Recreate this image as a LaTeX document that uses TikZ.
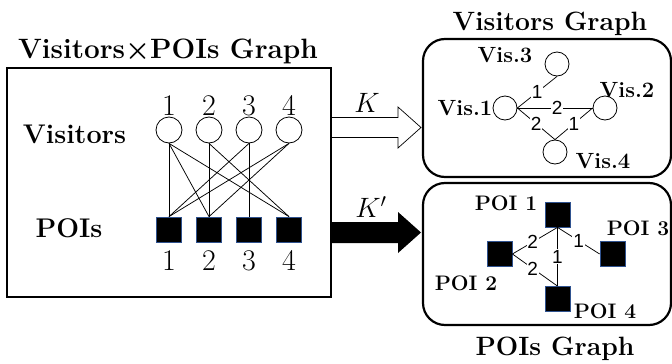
\RequirePackage{fix-cm}
\documentclass[tikz,border=0pt]{standalone}
\usepackage{fontspec}
\newfontfamily\lblfont{Liberation Sans}
\usetikzlibrary{calc}
\definecolor{poiblue}{RGB}{47,82,143}
\tikzset{
  visnode/.style={circle, draw=black, line width=0.8pt, minimum size=26pt, inner sep=0pt},
  smallvis/.style={circle, draw=black, line width=0.8pt, minimum size=24pt, inner sep=0pt},
  poinode/.style={rectangle, fill=black, draw=poiblue, line width=0.8pt, minimum size=25pt, inner sep=0pt},
  bigtitle/.style={anchor=base, inner sep=0pt, font=\fontsize{28}{30}\selectfont\bfseries},
  sidelabel/.style={anchor=base, inner sep=0pt, font=\fontsize{27}{30}\selectfont\bfseries},
  digit/.style={anchor=base, inner sep=0pt, font=\fontsize{30}{32}\selectfont},
  vislabel/.style={anchor=base, inner sep=0pt, font=\fontsize{22}{24}\selectfont\bfseries},
  poilabel/.style={anchor=base, inner sep=0pt, font=\fontsize{21}{24}\selectfont\bfseries},
  weight/.style={fill=white, inner sep=0.8pt, font=\lblfont\fontsize{19}{19}\selectfont},
  thinedge/.style={line width=0.75pt},
  frame/.style={draw=black, line width=2.2pt},
}
\begin{document}
\begin{tikzpicture}[x=1pt, y=-1pt]
\useasboundingbox (0,0) rectangle (672,364);

% ---- transfer arrows ----
\coordinate (kA) at (331,127.5);
\coordinate (kB) at (421,127.5);
\coordinate (kpA) at (331,232.5);
\coordinate (kpB) at (421,232.5);
\filldraw[fill=white, draw=black, line width=0.7pt]
  ($(kA)+(0,-10)$) -- ($(kB)+(-23,-10)$) -- ($(kB)+(-23,-20.5)$) -- (kB)
  -- ($(kB)+(-23,20.5)$) -- ($(kB)+(-23,10)$) -- ($(kA)+(0,10)$);
\fill[black]
  ($(kpA)+(0,-10.5)$) -- ($(kpB)+(-23,-10.5)$) -- ($(kpB)+(-23,-20.5)$) -- (kpB)
  -- ($(kpB)+(-23,20.5)$) -- ($(kpB)+(-23,10.5)$) -- ($(kpA)+(0,10.5)$) -- cycle;
\node[inner sep=0pt, font=\fontsize{28}{30}\selectfont] (klab) at (367,103) {$K$};
\node[inner sep=0pt, font=\fontsize{28}{30}\selectfont] (kplab) at (371,207) {$K'$};

% ---- bipartite graph ----
\draw[frame, fill=white] (7,68) rectangle (331,297);
\node[bigtitle] (bititle) at (168,58) {Visitors{\boldmath$\times$}POIs Graph};
\node[sidelabel] (vislab) at (74.5,143) {Visitors};
\node[sidelabel] (poislab) at (69,237) {POIs};

\foreach \i/\x in {1/169,2/209,3/249,4/289} {
  \node[visnode] (v\i) at (\x,130) {};
  \node[poinode] (p\i) at (\x,229.5) {};
  \node[digit] (vd\i) at (\x,115) {\i};
  \node[digit] (pd\i) at (\x,270) {\i};
}
\foreach \a/\b in {1/1,1/2,1/4,2/2,2/4,3/3,3/1,4/1,4/2}
  \draw[thinedge] (v\a.south) -- (p\b.north);

% ---- visitors graph ----
\draw[frame, rounded corners=22pt] (423,39) rectangle (671,177);
\node[bigtitle, font=\fontsize{26.5}{30}\selectfont\bfseries] (vgtitle) at (550,30) {Visitors Graph};
\node[smallvis] (g1) at (505,108) {};
\node[smallvis] (g2) at (605,108) {};
\node[smallvis] (g3) at (557,64) {};
\node[smallvis] (g4) at (555,152) {};
\node[vislabel] (g1l) at (465,115) {Vis.1};
\node[vislabel] (g2l) at (627,97) {Vis.2};
\node[vislabel] (g3l) at (505,62) {Vis.3};
\node[vislabel] (g4l) at (603,168) {Vis.4};
\draw[thinedge] (g1.east) -- node[weight, pos=0.5] {1} (g3.south);
\draw[thinedge] (g1.east) -- node[weight, pos=0.53] {2} (g2.west);
\draw[thinedge] (g1.east) -- node[weight, pos=0.5] {2} (g4.north);
\draw[thinedge] (g2.west) -- node[weight, pos=0.5] {1} (g4.north);

% ---- POIs graph ----
\draw[frame, rounded corners=22pt] (423,183) rectangle (671,325);
\node[bigtitle, font=\fontsize{26.5}{30}\selectfont\bfseries] (pgtitle) at (555,355) {POIs Graph};
\node[poinode] (q1) at (557.5,214.5) {};
\node[poinode] (q2) at (499.5,254) {};
\node[poinode] (q3) at (612.5,254) {};
\node[poinode] (q4) at (557.5,299) {};
\node[poilabel] (q1l) at (506,210) {POI 1};
\node[poilabel] (q2l) at (466,290) {POI 2};
\node[poilabel] (q3l) at (638,235) {POI 3};
\node[poilabel] (q4l) at (605,318) {POI 4};
\draw[thinedge] (q1.south) -- node[weight, pos=0.55] {2} (q2.east);
\draw[thinedge] (q1.south) -- node[weight, pos=0.5] {1} (q3.west);
\draw[thinedge] (q1.south) -- node[weight, pos=0.5] {1} (q4.north);
\draw[thinedge] (q2.east) -- node[weight, pos=0.45] {2} (q4.north);
\end{tikzpicture}
\end{document}
